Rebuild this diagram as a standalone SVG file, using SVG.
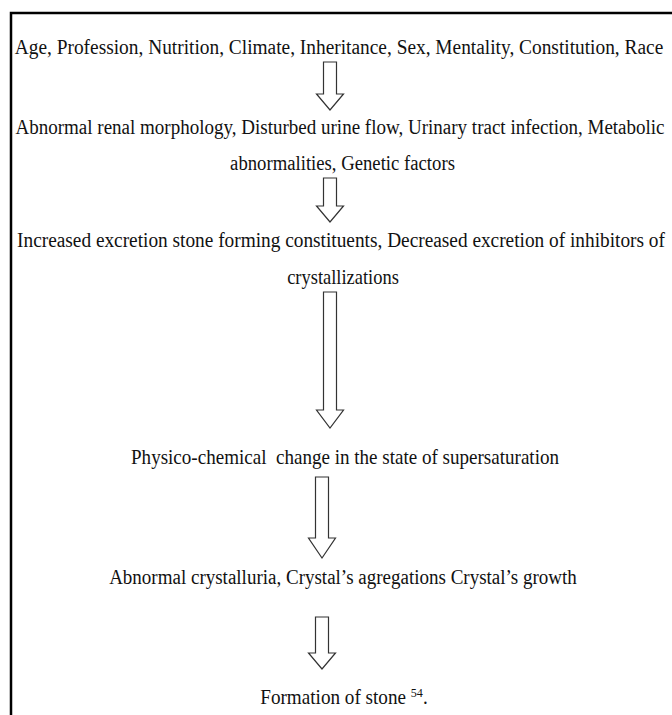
<svg xmlns="http://www.w3.org/2000/svg" width="672" height="715" viewBox="0 0 672 715">
<style>
.t{font-family:"Liberation Serif","Times New Roman",serif;font-size:20.5px;fill:#111;text-anchor:middle}
.a{fill:#fff;stroke:#333;stroke-width:1.2;stroke-linejoin:miter}
</style>
<rect width="672" height="715" fill="#fff"/>
<path d="M11 716 V13 H673" fill="none" stroke="#000" stroke-width="2.5"/>
<g id="n1"><text class="t" transform="translate(339 54) scale(0.945 1)">Age, Profession, Nutrition, Climate, Inheritance, Sex, Mentality, Constitution, Race</text></g>
<g id="n2"><text class="t" transform="translate(340 134) scale(0.928 1)">Abnormal renal morphology, Disturbed urine flow, Urinary tract infection, Metabolic</text>
<text class="t" transform="translate(342.5 170) scale(0.913 1)">abnormalities, Genetic factors</text></g>
<g id="n3"><text class="t" transform="translate(341 247) scale(0.943 1)">Increased excretion stone forming constituents, Decreased excretion of inhibitors of</text>
<text class="t" transform="translate(343 284) scale(0.9 1)">crystallizations</text></g>
<g id="n4"><text class="t" transform="translate(345 464) scale(0.93 1)">Physico-chemical&#160; change in the state of supersaturation</text></g>
<g id="n5"><text class="t" transform="translate(343 584) scale(0.9275 1)">Abnormal crystalluria, Crystal’s agregations Crystal’s growth</text></g>
<g id="n6"><text class="t" transform="translate(344 704) scale(0.935 1)">Formation of stone <tspan font-size="13" dy="-7">54</tspan><tspan dy="7">.</tspan></text></g>
<g id="connectors">
<polygon class="a" points="323.5,62 336.5,62 336.5,94 343.5,94 330,110 316.5,94 323.5,94"/>
<polygon class="a" points="323.5,178 336.5,178 336.5,206 343.5,206 330,222 316.5,206 323.5,206"/>
<polygon class="a" points="323.5,292 336.5,292 336.5,410 343.5,410 330,428 316.5,410 323.5,410"/>
<polygon class="a" points="315.5,477 328.5,477 328.5,538 335.5,538 322,558 308.5,538 315.5,538"/>
<polygon class="a" points="315.5,617 328.5,617 328.5,653 335.5,653 322,669 308.5,653 315.5,653"/>
</g>
</svg>
